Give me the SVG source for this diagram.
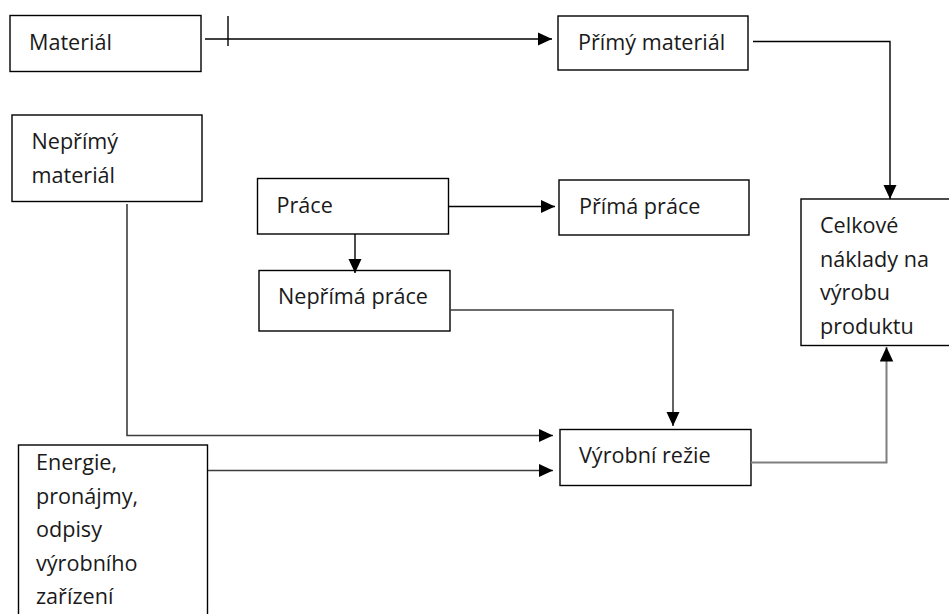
<svg xmlns="http://www.w3.org/2000/svg" width="949" height="614" viewBox="0 0 949 614">
  <style>
    .box { fill: #ffffff; stroke: #000000; stroke-width: 1.4; }
    .lbl { font-family: "Open Sans", "Liberation Sans", sans-serif; font-size: 21.6px; fill: #1a1a1a; }
    .wire { fill: none; stroke: #000000; stroke-width: 1.4; }
    .wire.dim { stroke: #3c3c3c; stroke-width: 1.6; }
    .wire.grey { stroke: #7f7f7f; stroke-width: 2; }
  </style>
  <defs>
    <marker id="arrow" markerUnits="userSpaceOnUse" markerWidth="15" markerHeight="14" refX="14.5" refY="6.75" orient="auto">
      <path d="M0,0 L14.5,6.75 L0,13.5 Z" fill="#000000"/>
    </marker>
  </defs>

  <rect width="949" height="614" fill="#ffffff"/>

  <!-- nodes -->
  <g id="material">
    <rect class="box" x="10" y="15.5" width="191" height="56"/>
    <text class="lbl" x="29" y="50">Materiál</text>
  </g>
  <g id="primy-material">
    <rect class="box" x="558" y="16" width="190" height="54"/>
    <text class="lbl" x="578" y="49.5">Přímý materiál</text>
  </g>
  <g id="neprimy-material">
    <rect class="box" x="12" y="115" width="190" height="86.5"/>
    <text class="lbl" x="31.5" y="149">Nepřímý</text>
    <text class="lbl" x="31.5" y="182.5">materiál</text>
  </g>
  <g id="prace">
    <rect class="box" x="257.5" y="178.5" width="191" height="55.5"/>
    <text class="lbl" x="276.5" y="212.5">Práce</text>
  </g>
  <g id="prima-prace">
    <rect class="box" x="559" y="180" width="190" height="55"/>
    <text class="lbl" x="579" y="213.5">Přímá práce</text>
  </g>
  <g id="neprima-prace">
    <rect class="box" x="259" y="270.5" width="191" height="60.5"/>
    <text class="lbl" x="278" y="304">Nepřímá práce</text>
  </g>
  <g id="celkove-naklady">
    <rect class="box" x="801" y="199" width="160" height="146.5"/>
    <text class="lbl" x="820" y="233">Celkové</text>
    <text class="lbl" x="820" y="266.5">náklady na</text>
    <text class="lbl" x="820" y="300">výrobu</text>
    <text class="lbl" x="820" y="333.5">produktu</text>
  </g>
  <g id="vyrobni-rezie">
    <rect class="box" x="560" y="429.5" width="191" height="56"/>
    <text class="lbl" x="579" y="462.5">Výrobní režie</text>
  </g>
  <g id="energie">
    <rect class="box" x="18.5" y="445" width="189" height="190"/>
    <text class="lbl" x="36" y="470">Energie,</text>
    <text class="lbl" x="36" y="503.5">pronájmy,</text>
    <text class="lbl" x="36" y="537">odpisy</text>
    <text class="lbl" x="36" y="570.5">výrobního</text>
    <text class="lbl" x="36" y="604">zařízení</text>
  </g>

  <!-- connectors -->
  <g id="connectors">
    <path class="wire" d="M205,39 H552" marker-end="url(#arrow)"/>
    <path class="wire" d="M228,16 V46"/>
    <path class="wire" d="M753,41.5 H890 V199" marker-end="url(#arrow)"/>
    <path class="wire" d="M448.5,206.5 H555" marker-end="url(#arrow)"/>
    <path class="wire" d="M355,234 V273" marker-end="url(#arrow)"/>
    <path class="wire dim" d="M450,310 H673 V426" marker-end="url(#arrow)"/>
    <path class="wire dim" d="M127,204 V435.5 H553" marker-end="url(#arrow)"/>
    <path class="wire dim" d="M208,470.5 H553" marker-end="url(#arrow)"/>
    <path class="wire grey" d="M751,462.5 H886.5 V347" marker-end="url(#arrow)"/>
  </g>
</svg>
